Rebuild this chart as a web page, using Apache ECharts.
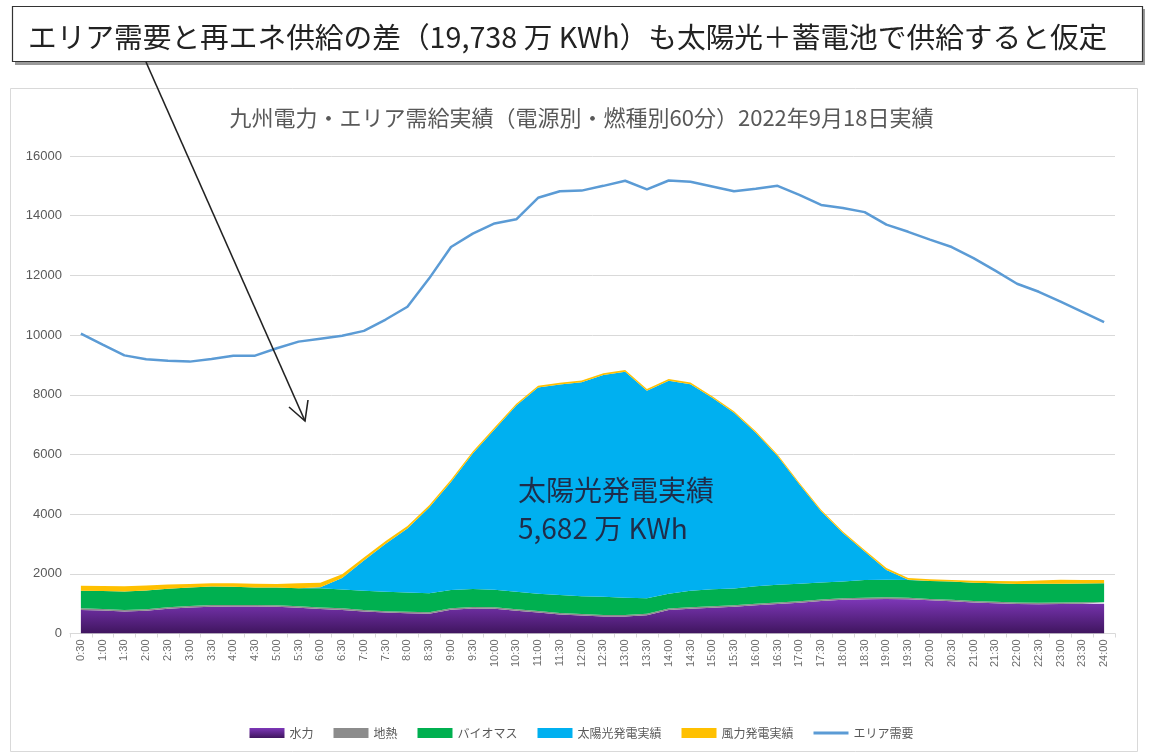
<!DOCTYPE html>
<html><head><meta charset="utf-8">
<script src="https://cdn.jsdelivr.net/npm/echarts@6/dist/echarts.min.js"></script>
<style>html,body{margin:0;padding:0;background:#fff;}#c{width:1163px;height:754px;}</style>
</head><body><div id="c"></div>
<script>
const times = ['0:30','1:00','1:30','2:00','2:30','3:00','3:30','4:00','4:30','5:00','5:30','6:00','6:30','7:00','7:30','8:00','8:30','9:00','9:30','10:00','10:30','11:00','11:30','12:00','12:30','13:00','13:30','14:00','14:30','15:00','15:30','16:00','16:30','17:00','17:30','18:00','18:30','19:00','19:30','20:00','20:30','21:00','21:30','22:00','22:30','23:00','23:30','24:00'];
const hydro = [790,770,740,760,830,870,900,905,905,900,860,820,790,740,700,680,660,800,840,830,760,700,640,600,570,570,610,790,830,860,900,950,990,1030,1090,1130,1150,1160,1150,1110,1080,1040,1010,990,980,990,1000,1000];
const geo = [52,51,50,50,49,50,51,50,50,49,50,51,52,50,49,50,51,50,50,49,50,51,50,50,49,50,50,51,50,49,50,50,51,50,49,50,50,51,50,50,49,50,51,50,50,49,50,50];
const bio = [590,600,615,630,620,620,620,615,590,590,610,645,630,640,650,640,640,610,605,590,590,580,600,600,610,580,520,490,550,570,560,580,590,590,570,560,590,590,590,600,610,610,620,620,640,630,625,630];
const solar = [0,0,0,0,0,0,0,0,0,0,0,35,390,1020,1610,2150,2870,3620,4535,5370,6240,6910,7050,7170,7430,7570,6950,7140,6920,6420,5890,5150,4320,3330,2390,1630,960,330,10,0,0,0,0,0,0,0,0,0];
const wind = [170,170,175,170,140,120,110,110,125,120,160,150,120,100,90,80,80,70,70,60,60,60,60,60,60,60,60,60,60,50,50,50,50,50,50,50,50,60,60,60,50,70,80,90,110,130,115,110];
const demand = [10050,9680,9320,9190,9140,9110,9200,9310,9310,9560,9780,9880,9980,10140,10520,10950,11900,12950,13400,13740,13880,14600,14820,14840,15000,15170,14880,15180,15140,14980,14820,14900,15000,14700,14360,14260,14120,13700,13460,13200,12950,12580,12160,11720,11450,11120,10780,10430];
const yTicks = [0,2000,4000,6000,8000,10000,12000,14000,16000];

const JP = '"Noto Sans CJK JP","Noto Sans",sans-serif';
const chart = echarts.init(document.getElementById('c'));
function area(name, data, color) {
  return {name, type:'line', stack:'s', data, symbol:'none', smooth:false,
    lineStyle:{width:0}, areaStyle:{color, opacity:1}, itemStyle:{color}, z:2};
}
const purple = new echarts.graphic.LinearGradient(0,0,0,1,[{offset:0,color:'#7d37b8'},{offset:1,color:'#3f155e'}]);
chart.setOption({
  animation:false,
  backgroundColor:'#fff',
  title:{text:'九州電力・エリア需給実績（電源別・燃種別60分）2022年9月18日実績', left:'center', top:102,
    textStyle:{fontFamily:JP, fontSize:22, fontWeight:'normal', color:'#595959'}},
  grid:{left:70, right:48, top:156, bottom:120.5},
  legend:{top:722, left:'center', itemWidth:35, itemHeight:10, itemGap:20, symbolKeepAspect:true,
    textStyle:{fontFamily:JP, fontSize:12, color:'#595959'},
    data:[{name:'水力',icon:'rect'},{name:'地熱',icon:'rect'},{name:'バイオマス',icon:'rect'},{name:'太陽光発電実績',icon:'rect'},{name:'風力発電実績',icon:'rect'},{name:'エリア需要',icon:'path://M0,0 L120,0 L120,10 L0,10 Z'}]},
  xAxis:{type:'category', data:times, boundaryGap:true,
    axisLine:{lineStyle:{color:'#d9d9d9'}}, axisTick:{show:true, lineStyle:{color:'#d9d9d9'}, length:4},
    axisLabel:{interval:0, rotate:90, fontSize:11, color:'#6d6d6d', fontFamily:'"Liberation Sans",sans-serif', margin:6}},
  yAxis:{type:'value', min:0, max:16000, interval:2000,
    axisLine:{show:false}, axisTick:{show:false},
    axisLabel:{fontSize:13, color:'#595959', margin:8, fontFamily:'"Liberation Sans",sans-serif',
      formatter:v=>yTicks.includes(v)?String(v):''},
    splitLine:{lineStyle:{color:'#d9d9d9', width:1}}},
  series:[
    area('水力', hydro, purple),
    area('地熱', geo, '#8c8c8c'),
    area('バイオマス', bio, '#00b050'),
    area('太陽光発電実績', solar, '#00b0f0'),
    area('風力発電実績', wind, '#ffc000'),
    {name:'エリア需要', type:'line', data:demand, symbol:'none', smooth:false,
      lineStyle:{width:2.5, color:'#5b9bd5'}, itemStyle:{color:'#5b9bd5'}, z:3}
  ],
  graphic:[
    {type:'rect', shape:{x:10.5, y:88.5, width:1127, height:663}, style:{fill:null, stroke:'#d9d9d9', lineWidth:1}, z:-1, silent:true},
    {type:'rect', shape:{x:15, y:9, width:1130, height:56}, style:{fill:'#9a9a9a'}, z:10, silent:true},
    {type:'rect', shape:{x:12.5, y:6.5, width:1130, height:55}, style:{fill:'#fff', stroke:'#333', lineWidth:1.2}, z:11, silent:true},
    {type:'text', x:28, y:37, style:{text:'エリア需要と再エネ供給の差（19,738 万 KWh）も太陽光＋蓄電池で供給すると仮定', fontFamily:JP, fontSize:28.7, fill:'#222', textVerticalAlign:'middle'}, z:12, silent:true},
    {type:'line', shape:{x1:146, y1:62, x2:305, y2:421}, style:{stroke:'#222', lineWidth:1.6}, z:20, silent:true},
    {type:'polyline', shape:{points:[[289,407],[305,421],[308,400]]}, style:{stroke:'#222', lineWidth:1.6, fill:null}, z:20, silent:true},
    {type:'text', x:518, y:490, style:{text:'太陽光発電実績', fontFamily:JP, fontSize:28, fill:'#1f2d4a', textVerticalAlign:'middle'}, z:20, silent:true},
    {type:'text', x:518, y:528, style:{text:'5,682 万 KWh', fontFamily:JP, fontSize:28, fill:'#1f2d4a', textVerticalAlign:'middle'}, z:20, silent:true}
  ]
});
</script></body></html>
